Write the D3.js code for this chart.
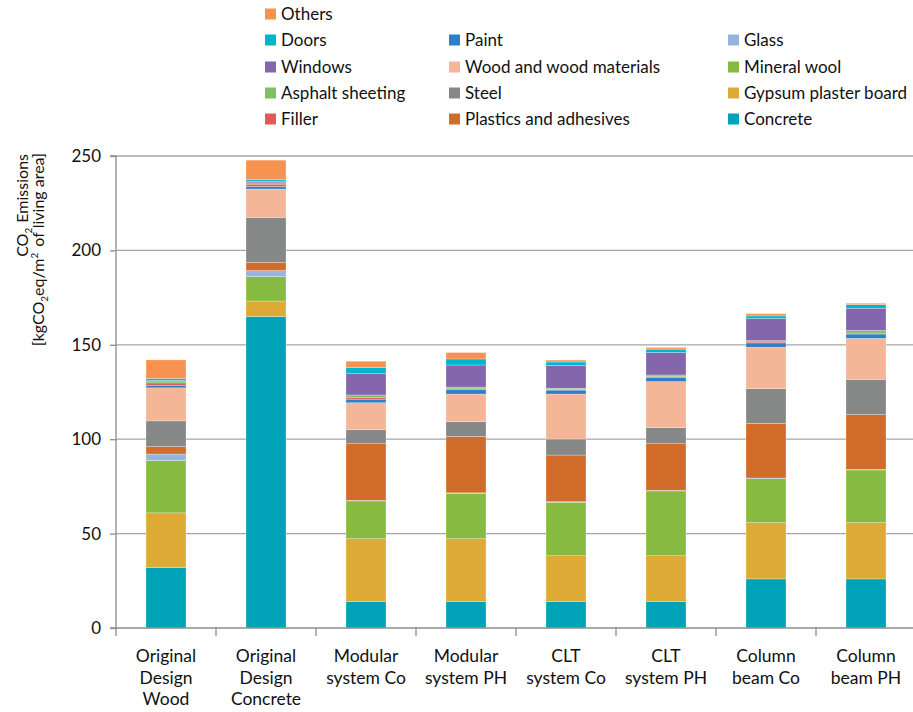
<!DOCTYPE html>
<html>
<head>
<meta charset="utf-8">
<script src="https://cdn.jsdelivr.net/npm/d3@7"></script>
<style>
  html, body { margin: 0; padding: 0; background: #fff; }
  svg { display: block; font-family: Lato, "Open Sans", sans-serif; }
</style>
</head>
<body>
<svg id="chart" width="913" height="712"></svg>
<script>
// ---- data ----
const categories = [
  ["Original", "Design", "Wood"],
  ["Original", "Design", "Concrete"],
  ["Modular", "system Co"],
  ["Modular", "system PH"],
  ["CLT", "system Co"],
  ["CLT", "system PH"],
  ["Column", "beam Co"],
  ["Column", "beam PH"]
];
// series listed bottom -> top of stack
const seriesNames = ["Concrete", "Gypsum plaster board", "Mineral wool", "Glass",
  "Plastics and adhesives", "Steel", "Wood and wood materials", "Paint", "Filler",
  "Asphalt sheeting", "Windows", "Doors", "Others"];
const seriesColors = ["#00A3B7", "#DDAB35", "#87BA40", "#97B4DA", "#D16C2B", "#858886",
  "#F5B597", "#2D80C7", "#E05A5A", "#7DC062", "#8466AC", "#00B5CE", "#F79350"];

const concrete  = [32,   165,  14,   14,   14,   14,   26,   26];
const gypsum    = [29,   8.2,  33.3, 33.3, 24.3, 24.3, 29.8, 29.8];
const mineral   = [27.7, 12.9, 20,   24,   28.3, 34.3, 23.3, 27.9];
const glass     = [3.4,  3.2,  0.3,  0.3,  0.3,  0.3,  0.3,  0.3];
const plastics  = [4,    4.4,  30,   29.9, 24.7, 24.7, 29,   29];
const steel     = [13.6, 23.8, 7.4,  7.8,  8.5,  8.5,  18.4, 18.7];
const wood      = [17.5, 15,   14.3, 14.6, 23.8, 24.4, 21.9, 21.7];
const paint     = [1.4,  1.4,  1.9,  2.3,  2.1,  2.1,  2.3,  2.3];
const filler    = [1.2,  1.2,  1,    0.5,  0.4,  0.5,  0.5,  0.5];
const asphalt   = [0.7,  0.7,  1.2,  0.9,  0.6,  0.9,  0.7,  1.4];
const windows   = [0.6,  0.6,  11.3, 11.7, 12.1, 11.9, 11.7, 11.8];
const doors     = [1,    1,    3.2,  3.2,  1.8,  1.8,  1.4,  1.9];
const others    = [9.9,  10.4, 3.4,  3.4,  1,    0.9,  1.2,  0.7];
const seriesValues = [concrete, gypsum, mineral, glass, plastics, steel, wood, paint,
  filler, asphalt, windows, doors, others];

const yTicks = [0, 50, 100, 150, 200, 250];

// ---- layout ----
const svg = d3.select("#chart");
const margin = { left: 116, right: 913, top: 156, bottom: 628 };
const catIds = categories.map((c, i) => i);

const x = d3.scaleBand().domain(catIds).range([margin.left, margin.left + 800]).paddingInner(0.6).paddingOuter(0.3);
const y = d3.scaleLinear().domain([0, 250]).range([margin.bottom, margin.top]);

// gridlines
svg.append("g").selectAll("line").data(yTicks.filter(d => d > 0)).join("line")
  .attr("x1", margin.left).attr("x2", margin.right)
  .attr("y1", d => y(d)).attr("y2", d => y(d))
  .attr("stroke", "#A6A6A6").attr("stroke-width", 1.3);

// stacked data
const rows = catIds.map(i => {
  const r = { id: i };
  seriesNames.forEach((s, k) => r[s] = seriesValues[k][i]);
  return r;
});
const stacked = d3.stack().keys(seriesNames)(rows);

svg.append("g").selectAll("g").data(stacked).join("g")
  .attr("fill", (d, k) => seriesColors[k])
  .selectAll("rect").data(d => d).join("rect")
  .attr("x", d => x(d.data.id))
  .attr("width", x.bandwidth())
  .attr("y", d => y(d[1]))
  .attr("height", d => Math.max(0, y(d[0]) - y(d[1])))
  .attr("stroke", "rgba(255,255,255,0.45)")
  .attr("stroke-width", 0.6);

// y axis
const yAxis = d3.axisLeft(y).tickValues(yTicks).tickSize(6).tickPadding(9).tickFormat(d3.format("d"));
const gy = svg.append("g").attr("transform", `translate(${margin.left},0)`).call(yAxis);
gy.select(".domain").attr("stroke", "#8C8C8C").attr("stroke-width", 1.3).attr("d", `M-6,${margin.top}H0V${margin.bottom}H-6`);
gy.selectAll(".tick line").attr("stroke", "#8C8C8C").attr("stroke-width", 1.3);
gy.selectAll(".tick text").attr("font-size", 17).attr("fill", "#111").attr("font-family", "Lato, sans-serif");

// x axis
const gx = svg.append("g");
gx.append("line").attr("x1", margin.left).attr("x2", margin.right)
  .attr("y1", margin.bottom).attr("y2", margin.bottom)
  .attr("stroke", "#8C8C8C").attr("stroke-width", 1.3);
const step = x.step();
const sepX = catIds.map(i => x(i) + x.bandwidth() / 2 - step / 2);
gx.selectAll("line.sep").data(sepX).join("line").attr("class", "sep")
  .attr("x1", d => d).attr("x2", d => d)
  .attr("y1", margin.bottom).attr("y2", margin.bottom + 8)
  .attr("stroke", "#8C8C8C").attr("stroke-width", 1.3);
const labels = gx.selectAll("text.cat").data(categories).join("text").attr("class", "cat")
  .attr("text-anchor", "middle").attr("font-size", 17.5).attr("fill", "#111")
  .attr("x", (d, i) => x(i) + x.bandwidth() / 2)
  .attr("y", 662);
labels.selectAll("tspan").data(d => d).join("tspan")
  .attr("x", function () { return d3.select(this.parentNode).attr("x"); })
  .attr("dy", (d, j) => j === 0 ? 0 : 21.5)
  .text(d => d);

// y title
const title = svg.append("g").attr("transform", "rotate(-90)");
const t1 = title.append("text").attr("x", -154).attr("y", 28).attr("text-anchor", "end")
  .attr("font-size", 16).attr("fill", "#111");
t1.append("tspan").text("CO");
t1.append("tspan").attr("font-size", 10).attr("dy", 4).text("2");
t1.append("tspan").attr("dy", -4).attr("dx", 1).text("\u00A0Emissions");
const t2 = title.append("text").attr("x", -153).attr("y", 44).attr("text-anchor", "end")
  .attr("font-size", 16).attr("fill", "#111");
t2.append("tspan").text("[kgCO");
t2.append("tspan").attr("font-size", 10).attr("dy", 4).text("2");
t2.append("tspan").attr("dy", -4).text("eq/m");
t2.append("tspan").attr("font-size", 10).attr("dy", -6).text("2");
t2.append("tspan").attr("dy", 6).attr("dx", 2).text("\u00A0of living area]");

// legend (reverse of stacking order, column-wise)
const legendCols = [265, 449, 728];
const legendRows = [14, 40, 67, 93, 119];
const legendItems = seriesNames.map((s, k) => ({ name: s, color: seriesColors[k] })).reverse()
  .map((d, i) => {
    if (i < 5) return { ...d, col: 0, row: i };
    if (i < 9) return { ...d, col: 1, row: i - 4 };
    return { ...d, col: 2, row: i - 8 };
  });
const lg = svg.append("g").selectAll("g").data(legendItems).join("g")
  .attr("transform", d => `translate(${legendCols[d.col]},${legendRows[d.row]})`);
lg.append("rect").attr("x", 0).attr("y", -5.5).attr("width", 11).attr("height", 11).attr("fill", d => d.color);
lg.append("text").attr("x", 16).attr("y", 0).attr("dy", "0.36em").attr("font-size", 17).attr("fill", "#111")
  .text(d => d.name);
</script>
</body>
</html>
